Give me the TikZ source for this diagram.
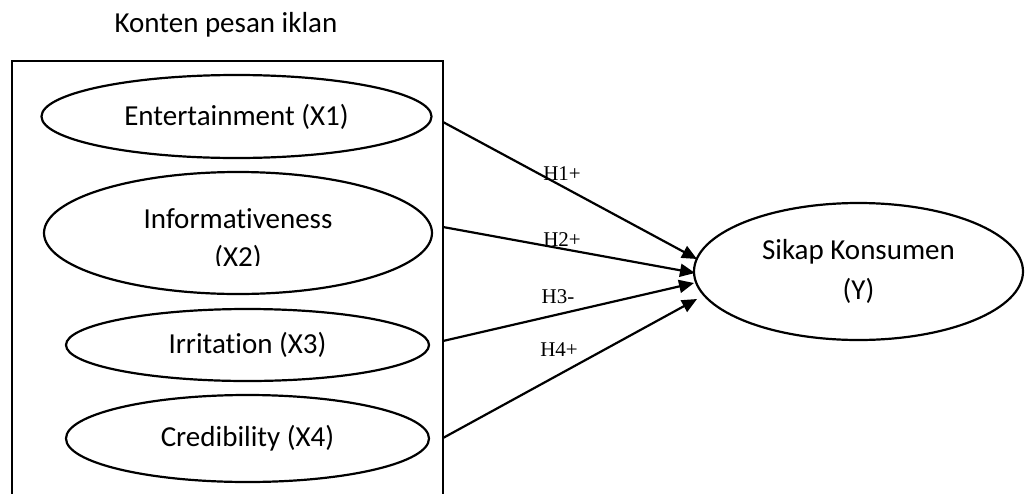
\documentclass[tikz,border=0pt]{standalone}
\usepackage{fontspec}
\setmainfont{Carlito}[Ligatures=NoCommon]
\newfontfamily\timesf{Liberation Serif}
\usetikzlibrary{shapes.geometric,arrows.meta}
\begin{document}
\begin{tikzpicture}[x=1pt,y=-1pt,
  ell/.style={ellipse,draw,line width=2.2pt,inner sep=0pt,align=center,font=\fontsize{29}{40}\selectfont},
  conn/.style={line width=2.2pt,-{Triangle[length=15pt,width=13pt]}},
  hlab/.style={font=\timesf\fontsize{21}{24}\selectfont,inner sep=0pt},
  lbl/.style={font=\fontsize{29}{38}\selectfont,inner sep=0pt,align=center},
  frame/.style={line width=2.2pt}]
\useasboundingbox (0,0) rectangle (1026,493);
% title and frame
\node[lbl] (title) at (226,25) {Konten pesan iklan};
\draw[frame] (12,497) -- (12,61) -- (443,61) -- (443,497);
% predictor ellipses
\node[ell,minimum width=390pt,minimum height=83pt] (x1) at (236.5,116.5) {Entertainment (X1)};
\node[ell,minimum width=388pt,minimum height=122pt] (x2) at (238,233) {};
\begin{scope}
  \clip (40,160) rectangle (440,265);
  \node[lbl] (x2t) at (238,240) {Informativeness\\(X2)};
\end{scope}
\node[ell,minimum width=363pt,minimum height=72pt] (x3) at (247.5,345) {Irritation (X3)};
\node[ell,minimum width=363pt,minimum height=87pt] (x4) at (247.5,438.5) {Credibility (X4)};
% outcome
\node[ell,minimum width=329pt,minimum height=137pt] (y) at (858.5,271.5) {Sikap Konsumen\\(Y)};
% connector ends
\coordinate (s1) at (443,122);
\coordinate (s2) at (443,227);
\coordinate (s3) at (443,341);
\coordinate (s4) at (443,438);
\coordinate (t1) at (697,259);
\coordinate (t2) at (695,273);
\coordinate (t3) at (694,283);
\coordinate (t4) at (697,299);
\draw[conn] (s1) -- (t1);
\draw[conn] (s2) -- (t2);
\draw[conn] (s3) -- (t3);
\draw[conn] (s4) -- (t4);
% labels
\node[hlab] (h1) at (562,174) {H1+};
\node[hlab] (h2) at (562,240) {H2+};
\node[hlab] (h3) at (558,297) {H3-};
\node[hlab] (h4) at (559,350) {H4+};
\end{tikzpicture}
\end{document}
